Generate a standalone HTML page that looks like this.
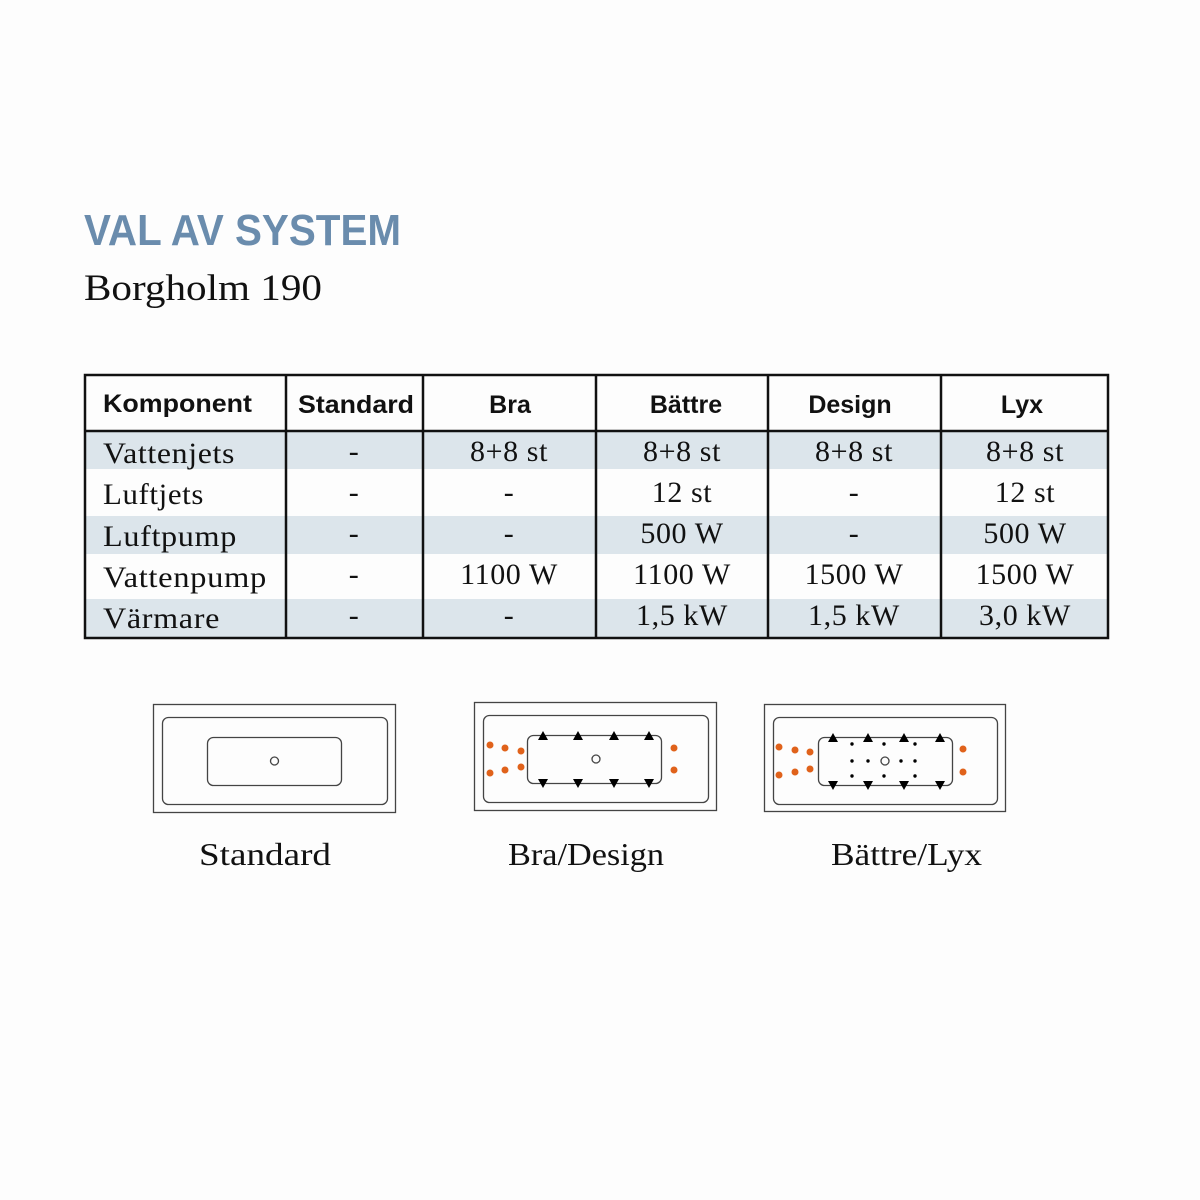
<!DOCTYPE html>
<html><head><meta charset="utf-8"><style>
html,body{margin:0;padding:0;background:#fdfdfd}
svg{display:block}
.s{font-family:"Liberation Serif",serif;font-size:30px;fill:#111;letter-spacing:0.6px}
.h{font-family:"Liberation Sans",sans-serif;font-weight:bold;font-size:25px;fill:#111}
</style></head><body>
<svg width="1200" height="1200" viewBox="0 0 1200 1200" xmlns="http://www.w3.org/2000/svg">
<rect width="1200" height="1200" fill="#fdfdfd"/>
<text x="84" y="245" font-family="Liberation Sans,sans-serif" font-weight="bold" font-size="44" fill="#6a8cad" textLength="317" lengthAdjust="spacingAndGlyphs">VAL AV SYSTEM</text>
<text x="84" y="300" font-family="Liberation Serif,serif" font-size="37" fill="#111" textLength="238" lengthAdjust="spacingAndGlyphs">Borgholm 190</text>

<g fill="#dce5eb">
<rect x="85" y="432" width="1022" height="37"/>
<rect x="85" y="516" width="1022" height="38"/>
<rect x="85" y="599" width="1022" height="38"/>
</g>
<g stroke="#111" stroke-width="2.5" fill="none">
<rect x="85" y="375" width="1023" height="263"/>
<line x1="85" y1="431" x2="1108" y2="431"/>
<line x1="286" y1="375" x2="286" y2="638"/>
<line x1="423" y1="375" x2="423" y2="638"/>
<line x1="596" y1="375" x2="596" y2="638"/>
<line x1="768" y1="375" x2="768" y2="638"/>
<line x1="941" y1="375" x2="941" y2="638"/>
</g>
<g class="h">
<text x="103" y="412" textLength="149" lengthAdjust="spacingAndGlyphs">Komponent</text>
<text x="298" y="413" textLength="116" lengthAdjust="spacingAndGlyphs">Standard</text>
<text x="510" y="413" text-anchor="middle">Bra</text>
<text x="686" y="413" text-anchor="middle">Bättre</text>
<text x="850" y="413" text-anchor="middle">Design</text>
<text x="1022" y="413" text-anchor="middle">Lyx</text>
</g>
<g class="s">
<text x="103" y="463" textLength="132" lengthAdjust="spacingAndGlyphs">Vattenjets</text>
<text x="103" y="504" textLength="101" lengthAdjust="spacingAndGlyphs">Luftjets</text>
<text x="103" y="546" textLength="134" lengthAdjust="spacingAndGlyphs">Luftpump</text>
<text x="103" y="587" textLength="164" lengthAdjust="spacingAndGlyphs">Vattenpump</text>
<text x="103" y="628" textLength="117" lengthAdjust="spacingAndGlyphs">Värmare</text>
</g>
<g class="s" text-anchor="middle">
<text x="354" y="461">-</text><text x="509" y="461">8+8 st</text><text x="682" y="461">8+8 st</text><text x="854" y="461">8+8 st</text><text x="1025" y="461">8+8 st</text>
<text x="354" y="502">-</text><text x="509" y="502">-</text><text x="682" y="502">12 st</text><text x="854" y="502">-</text><text x="1025" y="502">12 st</text>
<text x="354" y="543">-</text><text x="509" y="543">-</text><text x="682" y="543">500 W</text><text x="854" y="543">-</text><text x="1025" y="543">500 W</text>
<text x="354" y="584">-</text><text x="509" y="584">1100 W</text><text x="682" y="584">1100 W</text><text x="854" y="584">1500 W</text><text x="1025" y="584">1500 W</text>
<text x="354" y="625">-</text><text x="509" y="625">-</text><text x="682" y="625">1,5 kW</text><text x="854" y="625">1,5 kW</text><text x="1025" y="625">3,0 kW</text>
</g>

<!-- Standard -->
<g fill="none" stroke="#444" stroke-width="1.3">
<rect x="153.5" y="704.5" width="242" height="108"/>
<rect x="162.5" y="717.5" width="225" height="87" rx="6"/>
<rect x="207.5" y="737.5" width="134" height="48" rx="6"/>
<circle cx="274.5" cy="761" r="4"/>
</g>
<!-- Bra -->
<g fill="none" stroke="#444" stroke-width="1.3">
<rect x="474.5" y="702.5" width="242" height="108"/>
<rect x="483.5" y="715.5" width="225" height="87" rx="6"/>
<rect x="527.5" y="735.5" width="134" height="48" rx="6"/>
<circle cx="596" cy="759" r="4"/>
</g>
<g fill="#000">
<path d="M538 740l5-9 5 9zM573 740l5-9 5 9zM609 740l5-9 5 9zM644 740l5-9 5 9z"/>
<path d="M538 779l5 9 5-9zM573 779l5 9 5-9zM609 779l5 9 5-9zM644 779l5 9 5-9z"/>
</g>
<g fill="#e0621b">
<circle cx="490" cy="745" r="3.5"/><circle cx="505" cy="748" r="3.5"/><circle cx="521" cy="751" r="3.5"/>
<circle cx="490" cy="773" r="3.5"/><circle cx="505" cy="770" r="3.5"/><circle cx="521" cy="767" r="3.5"/>
<circle cx="674" cy="748" r="3.5"/><circle cx="674" cy="770" r="3.5"/>
</g>
<!-- Bättre -->
<g fill="none" stroke="#444" stroke-width="1.3">
<rect x="764.5" y="704.5" width="241" height="107"/>
<rect x="773.5" y="717.5" width="224" height="87" rx="6"/>
<rect x="818.5" y="737.5" width="134" height="48" rx="6"/>
<circle cx="885" cy="761" r="4"/>
</g>
<g fill="#000">
<path d="M828 742l5-9 5 9zM863 742l5-9 5 9zM899 742l5-9 5 9zM935 742l5-9 5 9z"/>
<path d="M828 781l5 9 5-9zM863 781l5 9 5-9zM899 781l5 9 5-9zM935 781l5 9 5-9z"/>
<circle cx="852" cy="744" r="1.7"/><circle cx="884" cy="744" r="1.7"/><circle cx="915" cy="744" r="1.7"/>
<circle cx="852" cy="761" r="1.7"/><circle cx="868" cy="761" r="1.7"/><circle cx="901" cy="761" r="1.7"/><circle cx="915" cy="761" r="1.7"/>
<circle cx="852" cy="776" r="1.7"/><circle cx="884" cy="776" r="1.7"/><circle cx="915" cy="776" r="1.7"/>
</g>
<g fill="#e0621b">
<circle cx="779" cy="747" r="3.5"/><circle cx="795" cy="750" r="3.5"/><circle cx="810" cy="752" r="3.5"/>
<circle cx="779" cy="775" r="3.5"/><circle cx="795" cy="772" r="3.5"/><circle cx="810" cy="769" r="3.5"/>
<circle cx="963" cy="749" r="3.5"/><circle cx="963" cy="772" r="3.5"/>
</g>
<g font-family="Liberation Serif,serif" font-size="32" fill="#111">
<text x="199" y="865" textLength="132" lengthAdjust="spacingAndGlyphs">Standard</text>
<text x="508" y="865" textLength="156" lengthAdjust="spacingAndGlyphs">Bra/Design</text>
<text x="831" y="865" textLength="151" lengthAdjust="spacingAndGlyphs">Bättre/Lyx</text>
</g>
</svg>
</body></html>
